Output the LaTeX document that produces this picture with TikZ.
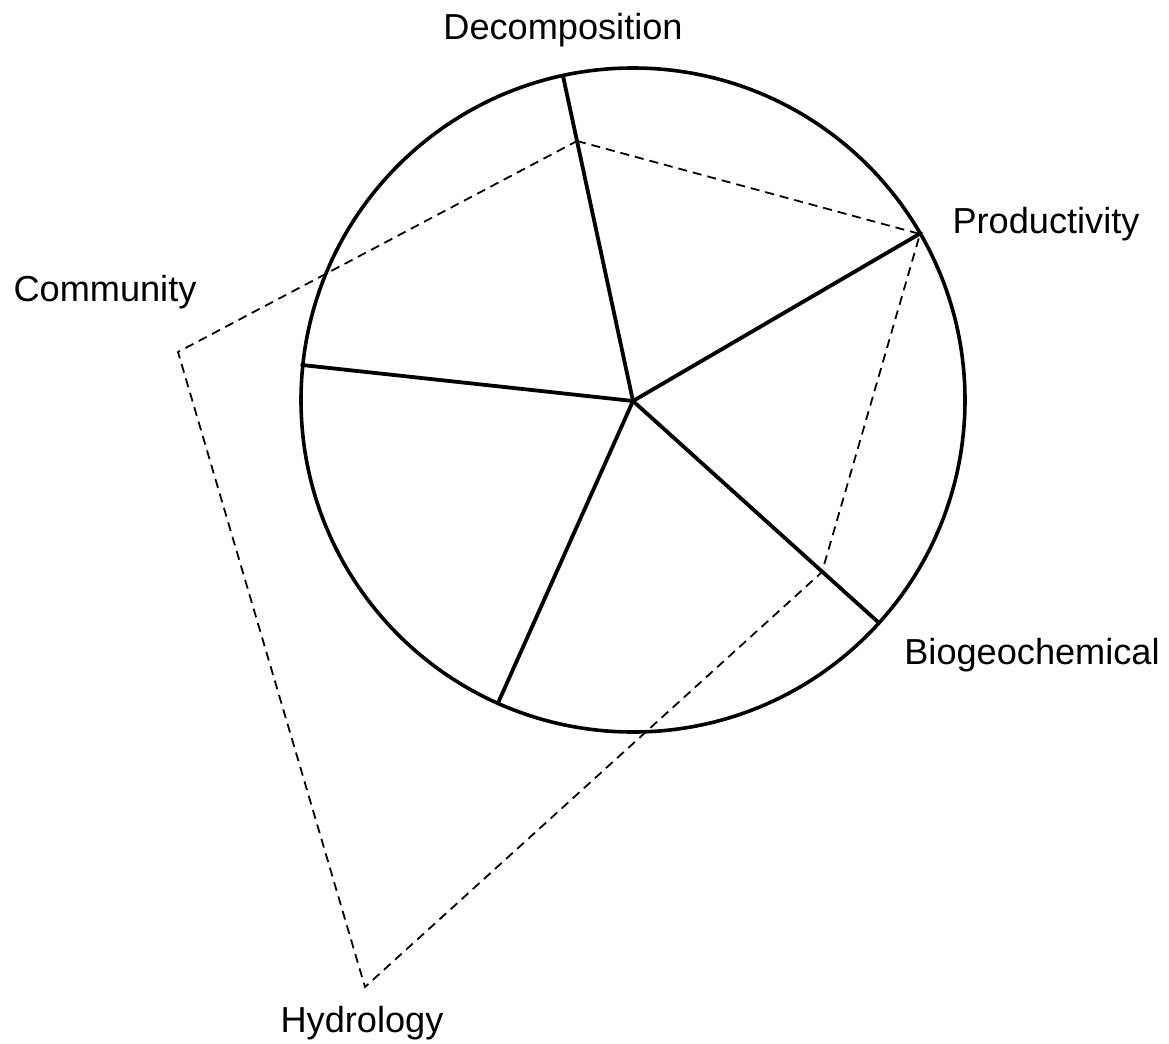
\documentclass[tikz,border=0pt]{standalone}
\usepackage{fontspec}
\setmainfont{Liberation Sans}
\begin{document}
\begin{tikzpicture}[x=1bp,y=-1bp,
  spoke/.style={line width=3.8bp, line cap=round},
  rim/.style={line width=3.6bp},
  web/.style={line width=1.8bp, dash pattern=on 9bp off 6bp, line join=miter},
  lbl/.style={font=\fontsize{36.3}{40}\selectfont, inner sep=0pt, anchor=base}]
\path[use as bounding box, fill=white] (0,0) rectangle (1169,1044);
% hub and spoke ends
\coordinate (hub) at (633,401);
\coordinate (sD) at (563,76);
\coordinate (sP) at (921,233);
\coordinate (sB) at (878,622);
\coordinate (sH) at (498,703);
\coordinate (sC) at (302,365);
% dashed polygon vertices
\coordinate (vD) at (577,141);
\coordinate (vP) at (920,234);
\coordinate (vB) at (822,572);
\coordinate (vH) at (365,987);
\coordinate (vC) at (178,352);
% circle
\draw[rim] (633,400) circle[radius=332];
% spokes
\foreach \e in {sD,sP,sB,sH,sC} \draw[spoke] (hub) -- (\e);
% dashed web
\draw[web] (vD) -- (vP) -- (vB) -- (vH) -- (vC) -- cycle;
% labels
\node[lbl] (lD) at (563,39) {Decomposition};
\node[lbl] (lP) at (1046,233) {Productivity};
\node[lbl] (lC) at (105,301) {Community};
\node[lbl] (lB) at (1032,664) {Biogeochemical};
\node[lbl] (lH) at (362,1032) {Hydrology};
\end{tikzpicture}
\end{document}
